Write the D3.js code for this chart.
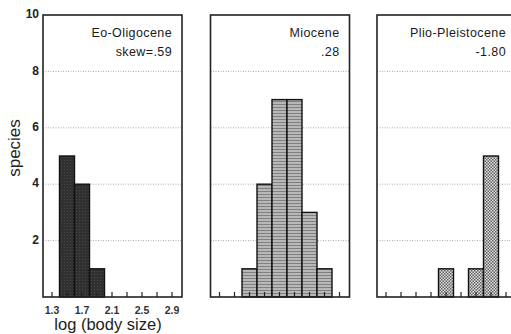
<!DOCTYPE html>
<html>
<head>
<meta charset="utf-8">
<script src="https://cdn.jsdelivr.net/npm/d3@7"></script>
<style>
  body { margin: 0; background: #fff; }
  svg { display: block; font-family: "Liberation Sans", Arial, Helvetica, sans-serif; }
</style>
</head>
<body>
<div id="chart"></div>
<script>
// Daten
var periods = ["Eo-Oligocene", "Miocene", "Plio-Pleistocene"];
var skewLabels = ["skew=.59", ".28", "-1.80"];
var eoBins = [1.5, 1.7, 1.9];
var eoCounts = [5, 4, 1];
var mioBins = [1.7, 1.9, 2.1, 2.3, 2.5, 2.7];
var mioCounts = [1, 4, 7, 7, 3, 1];
var plioBins = [2.1, 2.5, 2.7];
var plioCounts = [1, 1, 5];
var xTicks = [1.3, 1.5, 1.7, 1.9, 2.1, 2.3, 2.5, 2.7, 2.9];
var xTickLabels = ["1.3", "1.7", "2.1", "2.5", "2.9"];
var yTicks = [2, 4, 6, 8, 10];
var binWidth = 0.2;

var width = 511, height = 334;
var panelLeft = [43, 210.5, 377];
var panelWidth = 139;
var plotTop = 15, plotBottom = 297;

var svg = d3.select("#chart").append("svg")
  .attr("width", width)
  .attr("height", height);

// Füllmuster
var defs = svg.append("defs");
var p1 = defs.append("pattern").attr("id", "dark").attr("patternUnits", "userSpaceOnUse")
  .attr("width", 3).attr("height", 3);
p1.append("rect").attr("width", 3).attr("height", 3).attr("fill", "#303030");
p1.append("rect").attr("x", 1).attr("y", 1).attr("width", 1).attr("height", 1).attr("fill", "#4a4a4a");

var p2 = defs.append("pattern").attr("id", "mid").attr("patternUnits", "userSpaceOnUse")
  .attr("width", 3).attr("height", 3);
p2.append("rect").attr("width", 3).attr("height", 3).attr("fill", "#b8b8b8");
p2.append("rect").attr("y", 2).attr("width", 3).attr("height", 1).attr("fill", "#808080");

var p3 = defs.append("pattern").attr("id", "check").attr("patternUnits", "userSpaceOnUse")
  .attr("width", 3).attr("height", 3);
p3.append("rect").attr("width", 3).attr("height", 3).attr("fill", "#e6e6e6");
p3.append("rect").attr("width", 1.5).attr("height", 1.5).attr("fill", "#5a5a5a");
p3.append("rect").attr("x", 1.5).attr("y", 1.5).attr("width", 1.5).attr("height", 1.5).attr("fill", "#5a5a5a");

var y = d3.scaleLinear().domain([0, 10]).range([plotBottom, plotTop]);

var panels = [
  { bins: eoBins, counts: eoCounts, fill: "url(#dark)" },
  { bins: mioBins, counts: mioCounts, fill: "url(#mid)" },
  { bins: plioBins, counts: plioCounts, fill: "url(#check)" }
];

panels.forEach(function(p, i) {
  var x0 = panelLeft[i];
  var x = d3.scaleLinear().domain([1.18, 1.18 + panelWidth / 75]).range([x0, x0 + panelWidth]);
  var g = svg.append("g");

  // gepunktete Hilfslinien
  g.selectAll(".grid").data(yTicks.slice(0, 4)).enter().append("line")
    .attr("x1", x0).attr("x2", x0 + panelWidth)
    .attr("y1", function(d){ return y(d) }).attr("y2", function(d){ return y(d) })
    .attr("stroke", "#aaa").attr("stroke-width", 1)
    .style("stroke-dasharray", "1,1.5");

  // Balken
  var data = p.bins.map(function(b, j){ return { bin: b, count: p.counts[j] } });
  g.selectAll(".bar").data(data).enter().append("rect")
    .attr("x", function(d){ return x(d.bin - binWidth / 2) })
    .attr("y", function(d){ return y(d.count) })
    .attr("width", function(d){ return x(d.bin + binWidth / 2) - x(d.bin - binWidth / 2) })
    .attr("height", function(d){ return y(0) - y(d.count) })
    .attr("fill", p.fill)
    .attr("stroke", "#111")
    .attr("stroke-width", 1.4);

  // Ticks an der Unterkante
  g.selectAll(".tick").data(xTicks).enter().append("line")
    .attr("x1", function(d){ return x(d) }).attr("x2", function(d){ return x(d) })
    .attr("y1", plotBottom).attr("y2", plotBottom - 5)
    .attr("stroke", "#222").attr("stroke-width", 1.2);

  // Rahmen
  g.append("rect")
    .attr("x", x0).attr("y", plotTop)
    .attr("width", panelWidth).attr("height", plotBottom - plotTop)
    .attr("fill", "none").attr("stroke", "#222").attr("stroke-width", 1.6);

  // Titel
  g.append("text")
    .attr("x", x0 + panelWidth - 10).attr("y", 37)
    .attr("text-anchor", "end")
    .style("font-size", "12.5px")
    .style("letter-spacing", "0.4px")
    .attr("fill", "#1a1a1a")
    .text(periods[i]);
  g.append("text")
    .attr("x", x0 + panelWidth - 10).attr("y", 56)
    .attr("text-anchor", "end")
    .style("font-size", "12.5px")
    .style("letter-spacing", "0.4px")
    .attr("fill", "#1a1a1a")
    .text(skewLabels[i]);

  // Achsenbeschriftung nur im ersten Panel
  if (i == 0) {
    g.selectAll(".xl").data(xTickLabels).enter().append("text")
      .attr("x", function(d){ return x(+d) })
      .attr("y", 314)
      .attr("text-anchor", "middle")
      .style("font-size", "10.5px")
      .style("font-weight", "bold")
      .attr("fill", "#333")
      .text(function(d){ return d });
  }
});

// y-Achse
svg.selectAll(".yl").data(yTicks).enter().append("text")
  .attr("x", 39)
  .attr("y", function(d){ return y(d) })
  .attr("text-anchor", "end")
  .attr("dominant-baseline", "middle")
  .style("font-size", "12px")
  .style("font-weight", "bold")
  .attr("fill", "#222")
  .text(function(d){ return d });

svg.append("text")
  .attr("transform", "translate(20,148) rotate(-90)")
  .attr("text-anchor", "middle")
  .style("font-size", "17px")
  .attr("fill", "#222")
  .text("species");

svg.append("text")
  .attr("x", 108).attr("y", 330)
  .attr("text-anchor", "middle")
  .style("font-size", "16.5px")
  .attr("fill", "#222")
  .text("log (body size)");
</script>
</body>
</html>
